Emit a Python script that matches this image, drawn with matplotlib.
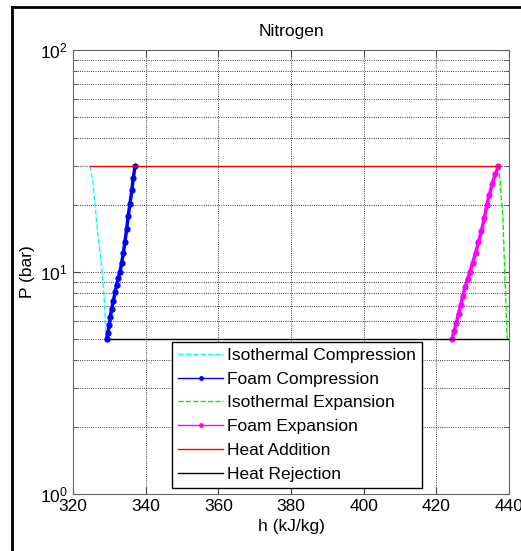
import matplotlib.pyplot as plt
from matplotlib.lines import Line2D
from matplotlib.ticker import LogLocator, NullFormatter

plt.rcParams['font.family'] = ['Liberation Sans', 'DejaVu Sans']
plt.rcParams['mathtext.fontset'] = 'custom'
plt.rcParams['mathtext.rm'] = 'Liberation Sans'
plt.rcParams['mathtext.it'] = 'Liberation Sans'

# isothermal compression (cyan)
iso_comp_h = [324.7, 325.4, 326.1, 326.8, 327.4, 327.9, 328.3, 328.6, 328.9, 329.1]
iso_comp_p = [30.0, 26.0, 20.0, 15.0, 12.5, 10.6, 8.8, 7.5, 6.2, 5.0]

# foam compression (blue)
foam_comp_h = [329.3, 329.6, 330.0, 330.3, 330.65, 331.1, 331.6, 332.0, 332.5, 332.95,
               333.4, 333.9, 334.3, 334.8, 335.2, 335.7, 336.2, 336.6, 337.1]
foam_comp_p = [5.0, 5.3, 5.8, 6.3, 6.8, 7.4, 8.1, 8.7, 9.4, 10.0,
               11.0, 12.2, 13.7, 15.6, 17.8, 20.3, 23.3, 26.5, 30.0]

# isothermal expansion (green)
iso_exp_h = [437.2, 437.5, 437.8, 438.3, 438.5, 438.7, 439.0, 439.2, 439.4, 439.5]
iso_exp_p = [30.0, 26.0, 22.0, 17.8, 14.5, 11.4, 8.4, 6.8, 5.2, 5.0]

# foam expansion (magenta)
foam_exp_h = [424.3, 424.9, 425.5, 426.1, 426.7, 427.3, 428.0, 428.6, 429.3, 430.0,
              430.8, 431.6, 432.4, 433.2, 433.9, 434.6, 435.4, 436.2, 437.1]
foam_exp_p = [5.0, 5.4, 5.9, 6.5, 7.1, 7.8, 8.6, 9.3, 10.0, 11.0,
              12.2, 13.6, 15.3, 17.5, 20.0, 22.3, 25.0, 27.5, 30.0]

# heat addition / rejection
heat_add_h = [324.7, 437.2]
heat_add_p = [30.0, 30.0]
heat_rej_h = [329.3, 439.8]
heat_rej_p = [5.0, 5.0]

fig = plt.figure(figsize=(5.21, 5.51), dpi=100)
ax = fig.add_axes([0.140, 0.1034, 0.837, 0.806])

ax.semilogy(iso_comp_h, iso_comp_p, '--', color='cyan', lw=1, label='Isothermal Compression')
ax.semilogy(foam_comp_h, foam_comp_p, '.-', color='blue', lw=2.5, ms=7, label='Foam Compression')
ax.semilogy(iso_exp_h, iso_exp_p, '--', color='#00ee00', lw=1, label='Isothermal Expansion')
ax.semilogy(foam_exp_h, foam_exp_p, '.-', color='magenta', lw=2.5, ms=7, label='Foam Expansion')
ax.semilogy(heat_add_h, heat_add_p, '-', color='red', lw=1, label='Heat Addition')
ax.semilogy(heat_rej_h, heat_rej_p, '-', color='black', lw=1, label='Heat Rejection')

ax.set_xlim(320, 440)
ax.set_ylim(1, 100)
ax.set_xticks([320, 340, 360, 380, 400, 420, 440])
ax.yaxis.set_major_locator(LogLocator(base=10, numticks=5))
ax.yaxis.set_minor_locator(LogLocator(base=10, subs=range(2, 10), numticks=20))
ax.yaxis.set_minor_formatter(NullFormatter())

ax.grid(True, which='major', linestyle=':', color='black', lw=0.6)
ax.grid(True, which='minor', axis='y', linestyle=':', color='black', lw=0.6)
ax.tick_params(which='both', direction='in', top=True, right=True, labelsize=12.5, colors='#444444')
ax.tick_params(which='both', labelcolor='black')
ax.tick_params(which='major', length=5)
ax.tick_params(which='minor', length=3)
for s in ax.spines.values():
    s.set_color('#666666')

ax.set_title('Nitrogen', fontsize=12.5, pad=10)
ax.set_xlabel('h (kJ/kg)', fontsize=12.5)
ax.set_ylabel('P (bar)', fontsize=12.5, labelpad=4)

leg = ax.legend(loc='lower left', bbox_to_anchor=(0.227, 0.0135), borderaxespad=0,
                fontsize=12.5, fancybox=False, framealpha=1, edgecolor='black',
                handlelength=2.6, handletextpad=0.2, labelspacing=0.5, borderpad=0.35)
leg.get_frame().set_linewidth(1)
for h in leg.get_lines():
    h.set_linewidth(1)
    h.set_markersize(5)

# screenshot frame
fig.add_artist(Line2D([12 / 521, 12 / 521], [0, 1 - 7 / 551], color='black', lw=2))
fig.add_artist(Line2D([12 / 521, 1], [1 - 7 / 551, 1 - 7 / 551], color='black', lw=2))

fig.savefig('out.png', dpi=100)
